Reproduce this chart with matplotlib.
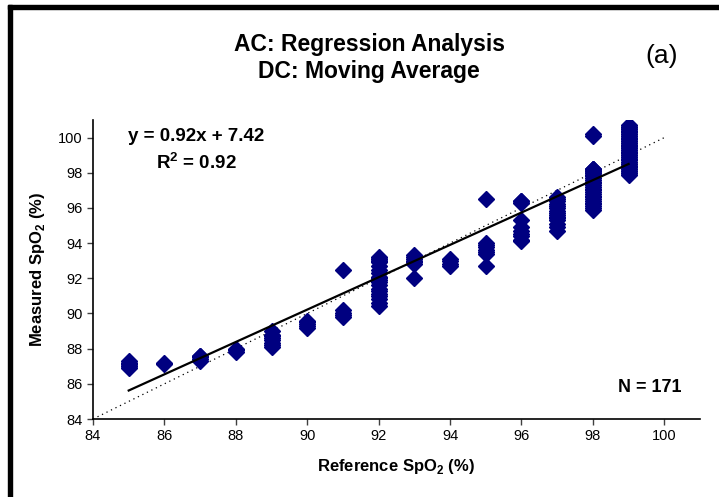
import matplotlib
matplotlib.use("Agg")
from matplotlib import pyplot as plt
from matplotlib.patches import Rectangle

niveaux = [85, 86, 87, 88, 89, 90, 91, 92, 93, 94, 95, 96, 97, 98, 99]
m85 = [86.9, 87.0, 87.0, 87.1, 87.2, 87.3]
m86 = [87.1, 87.2]
m87 = [87.3, 87.4, 87.5, 87.6, 87.6]
m88 = [87.8, 87.9, 88.0]
m89 = [88.1, 88.2, 88.3, 88.5, 88.6, 88.7, 88.8, 89.0]
m90 = [89.2, 89.3, 89.4, 89.5, 89.6]
m91 = [89.8, 89.9, 90.0, 90.2, 92.5]
m92 = [90.4, 90.6, 90.8, 91.0, 91.1, 91.3, 91.4, 91.6, 91.8, 91.9,
       92.0, 92.1, 92.3, 92.5, 92.7, 92.9, 93.0, 93.1, 93.1, 93.2]
m93 = [92.0, 92.8, 92.9, 93.0, 93.1, 93.2, 93.3]
m94 = [92.7, 92.8, 93.0, 93.1]
m95 = [92.7, 93.4, 93.5, 93.6, 93.8, 93.9, 94.0, 96.5]
m96 = [94.1, 94.2, 94.4, 94.5, 94.7, 94.9, 95.3, 96.3, 96.4, 96.4]
m97 = [94.7, 94.9, 95.1, 95.3, 95.4, 95.5, 95.6, 95.7, 95.8, 96.0,
       96.1, 96.2, 96.4, 96.5, 96.6]
m98 = [95.9, 96.0, 96.1, 96.2, 96.3, 96.4, 96.5, 96.6, 96.7, 96.8,
       96.9, 97.0, 97.1, 97.2, 97.3, 97.4, 97.5, 97.6, 97.7, 97.8,
       97.9, 98.0, 98.0, 98.1, 98.1, 98.2, 98.2, 98.2, 100.1, 100.2]
m99 = [97.9, 98.0, 98.0, 98.1, 98.2, 98.2, 98.3, 98.4, 98.5, 98.5,
       98.6, 98.7, 98.8, 98.8, 98.9, 99.0, 99.0, 99.1, 99.2, 99.2,
       99.3, 99.4, 99.4, 99.5, 99.5, 99.6, 99.6, 99.7, 99.8, 99.8,
       99.9, 100.0, 100.0, 100.1, 100.2, 100.2, 100.3, 100.4, 100.5, 100.5,
       100.6, 100.6, 100.7]
mesures = [m85, m86, m87, m88, m89, m90, m91, m92, m93, m94, m95, m96, m97, m98, m99]

pente, ordonnee = 0.92, 7.42
identite = [84, 100]
ticks = [84, 86, 88, 90, 92, 94, 96, 98, 100]

les_x = []
les_y = []
for niv, liste in zip(niveaux, mesures):
    for v in liste:
        les_x.append(niv)
        les_y.append(v)

plt.rcParams['font.family'] = ['Liberation Sans', 'DejaVu Sans']
plt.rcParams['mathtext.fontset'] = 'custom'
plt.rcParams['mathtext.rm'] = 'Liberation Sans'
plt.rcParams['mathtext.bf'] = 'Liberation Sans:bold'

fig = plt.figure(figsize=(7.19, 4.97), dpi=100)
ax = fig.add_axes([93 / 719, 78 / 497, 607 / 719, 299 / 497])

ax.plot(identite, identite, linestyle=(0, (1, 3)), color="black", linewidth=0.9)
ax.plot(les_x, les_y, marker="D", linestyle="", color="#000080", markersize=8)
ax.plot([niveaux[0], niveaux[-1]],
        [pente * niveaux[0] + ordonnee, pente * niveaux[-1] + ordonnee],
        color="black", linewidth=1.6)

ax.set_xlim(84, 101)
ax.set_ylim(84, 101)
ax.set_xticks(ticks)
ax.set_yticks(ticks)
ax.tick_params(direction="out", length=4, width=1, labelsize=10.5, color="#404040")
for s in ["top", "right"]:
    ax.spines[s].set_visible(False)
for s in ["left", "bottom"]:
    ax.spines[s].set_linewidth(1.2)

ax.set_xlabel(r"Reference SpO$_\mathbf{2}$ (%)", fontsize=12, fontweight="bold", labelpad=10)
ax.set_ylabel(r"Measured SpO$_\mathbf{2}$ (%)", fontsize=12, fontweight="bold", labelpad=8)

fig.text(369 / 719, 1 - 58 / 497, "AC: Regression Analysis\nDC: Moving Average",
         ha="center", va="center", fontsize=16.5, fontweight="bold", linespacing=1.25)
fig.text(662 / 719, 1 - 56 / 497, "(a)", ha="center", va="center", fontsize=19)
fig.text(196 / 719, 1 - 137 / 497, "y = 0.92x + 7.42", ha="center", va="center",
         fontsize=13.5, fontweight="bold")
fig.text(196 / 719, 1 - 163 / 497, r"R$^\mathbf{2}$ = 0.92", ha="center", va="center",
         fontsize=13.5, fontweight="bold")
fig.text(682 / 719, 1 - 388 / 497, "N = 171", ha="right", va="center",
         fontsize=13, fontweight="bold")

# cadre noir épais (gauche et haut)
fig.patches.append(Rectangle((8 / 719, 0), 4 / 719, 492 / 497,
                             transform=fig.transFigure, color="black"))
fig.patches.append(Rectangle((8 / 719, 488 / 497), 711 / 719, 4 / 497,
                             transform=fig.transFigure, color="black"))

fig.savefig("out.png", dpi=100)
